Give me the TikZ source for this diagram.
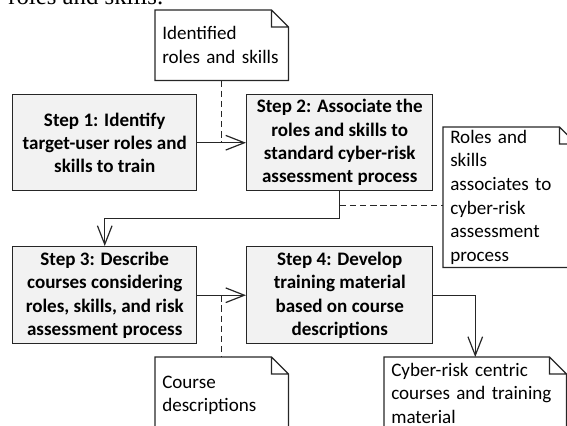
\documentclass[tikz,border=0pt]{standalone}
\usepackage{fontspec}
\setmainfont{Carlito}
\newfontfamily\pageserif{Liberation Serif}
\usetikzlibrary{arrows.meta,calc}

\begin{document}
\begin{tikzpicture}[x=0.75pt,y=0.75pt,yscale=-1,xscale=1,
  stepbox/.style={draw={rgb, 255:red, 38; green, 38; blue, 38 }, line width=1.1pt, fill={rgb, 255:red, 242; green, 242; blue, 242 }, anchor=north west, inner sep=0pt, align=center, font=\fontsize{14.3}{17.5}\selectfont\bfseries},
  notebox/.style={anchor=north west, inner xsep=5.25pt, inner ysep=0pt, align=left, font=\fontsize{14.3}{17.8}\selectfont},
  notepen/.style={draw={rgb, 255:red, 38; green, 38; blue, 38 }, line width=1pt, line join=miter},
  flow/.style={draw={rgb, 255:red, 38; green, 38; blue, 38 }, line width=0.9pt, -{Straight Barb[length=14pt,width=11pt]}},
  link/.style={draw={rgb, 255:red, 38; green, 38; blue, 38 }, line width=0.9pt, dash pattern=on 4.8pt off 2.8pt}
]
%set diagram left start at 0, and has height of 425
\useasboundingbox (0,0) rectangle (567,425);
\clip (0,0) rectangle (567,425);

% Text Node (end of the page text above)
\node [anchor=base west, inner sep=0pt, font=\pageserif\fontsize{18.6}{20}\selectfont] (pagetext) at (8,4) {roles and skills.};

%Shape: Steps
\node [stepbox, minimum width=138pt, minimum height=72pt] (identify) at (12,94) {Step 1: Identify\\target-user roles and\\skills to train};
\node [stepbox, minimum width=139.5pt, minimum height=72pt] (associate) at (246,94) {Step 2: Associate the\\roles and skills to\\standard cyber-risk\\assessment process};
\node [stepbox, minimum width=138pt, minimum height=72.75pt] (describe) at (12,246) {Step 3: Describe\\courses considering\\roles, skills, and risk\\assessment process};
\node [stepbox, minimum width=139.5pt, minimum height=72.75pt] (develop) at (246,246) {Step 4: Develop\\training material\\based on course\\descriptions};

%Shape: Notes
\node [notebox, minimum width=99.75pt, minimum height=52.5pt, text width=89.25pt] (identified) at (155,10) {Identified\\roles and skills};
\node [notebox, minimum width=99.75pt, minimum height=105pt, text width=89.25pt] (associated) at (443,127) {Roles and\\skills\\associates to\\cyber-risk\\assessment\\process};
\node [notebox, minimum width=99.75pt, minimum height=57pt, text width=89.25pt] (descriptions) at (155,357) {Course\\descriptions};
\node [notebox, minimum width=136.5pt, minimum height=54pt, text width=126pt] (courses) at (384,357) {Cyber-risk centric\\courses and training\\material};

% dog-ear outlines
\foreach \n in {identified,associated,descriptions,courses}
  \draw [notepen] (\n.north west) -- ($(\n.north east)+(-17,0)$) -- ++(17,17) -- (\n.south east) -- (\n.south west) -- cycle
    ($(\n.north east)+(-17,0)$) -- ++(0,17) -- ++(17,0);

%Straight Lines: flow
\draw [flow] (identify) -- (associate);
\draw [flow] (associate.south) -- ++(0,27) -| (describe.north);
\draw [flow] (describe) -- (develop);
\draw [flow] (develop.east) -| (courses.north);

%Straight Lines: dashed links to notes
\coordinate (onflowa) at (identified.south |- identify.east);
\coordinate (onflowb) at ($(associate.south)+(0,14)$);
\coordinate (onflowc) at (descriptions.north |- describe.east);
\draw [link] (identified.south) -- (onflowa);
\draw [link] (onflowb) -- (onflowb -| associated.west);
\draw [link] (onflowc) -- (descriptions.north);

\end{tikzpicture}
\end{document}
